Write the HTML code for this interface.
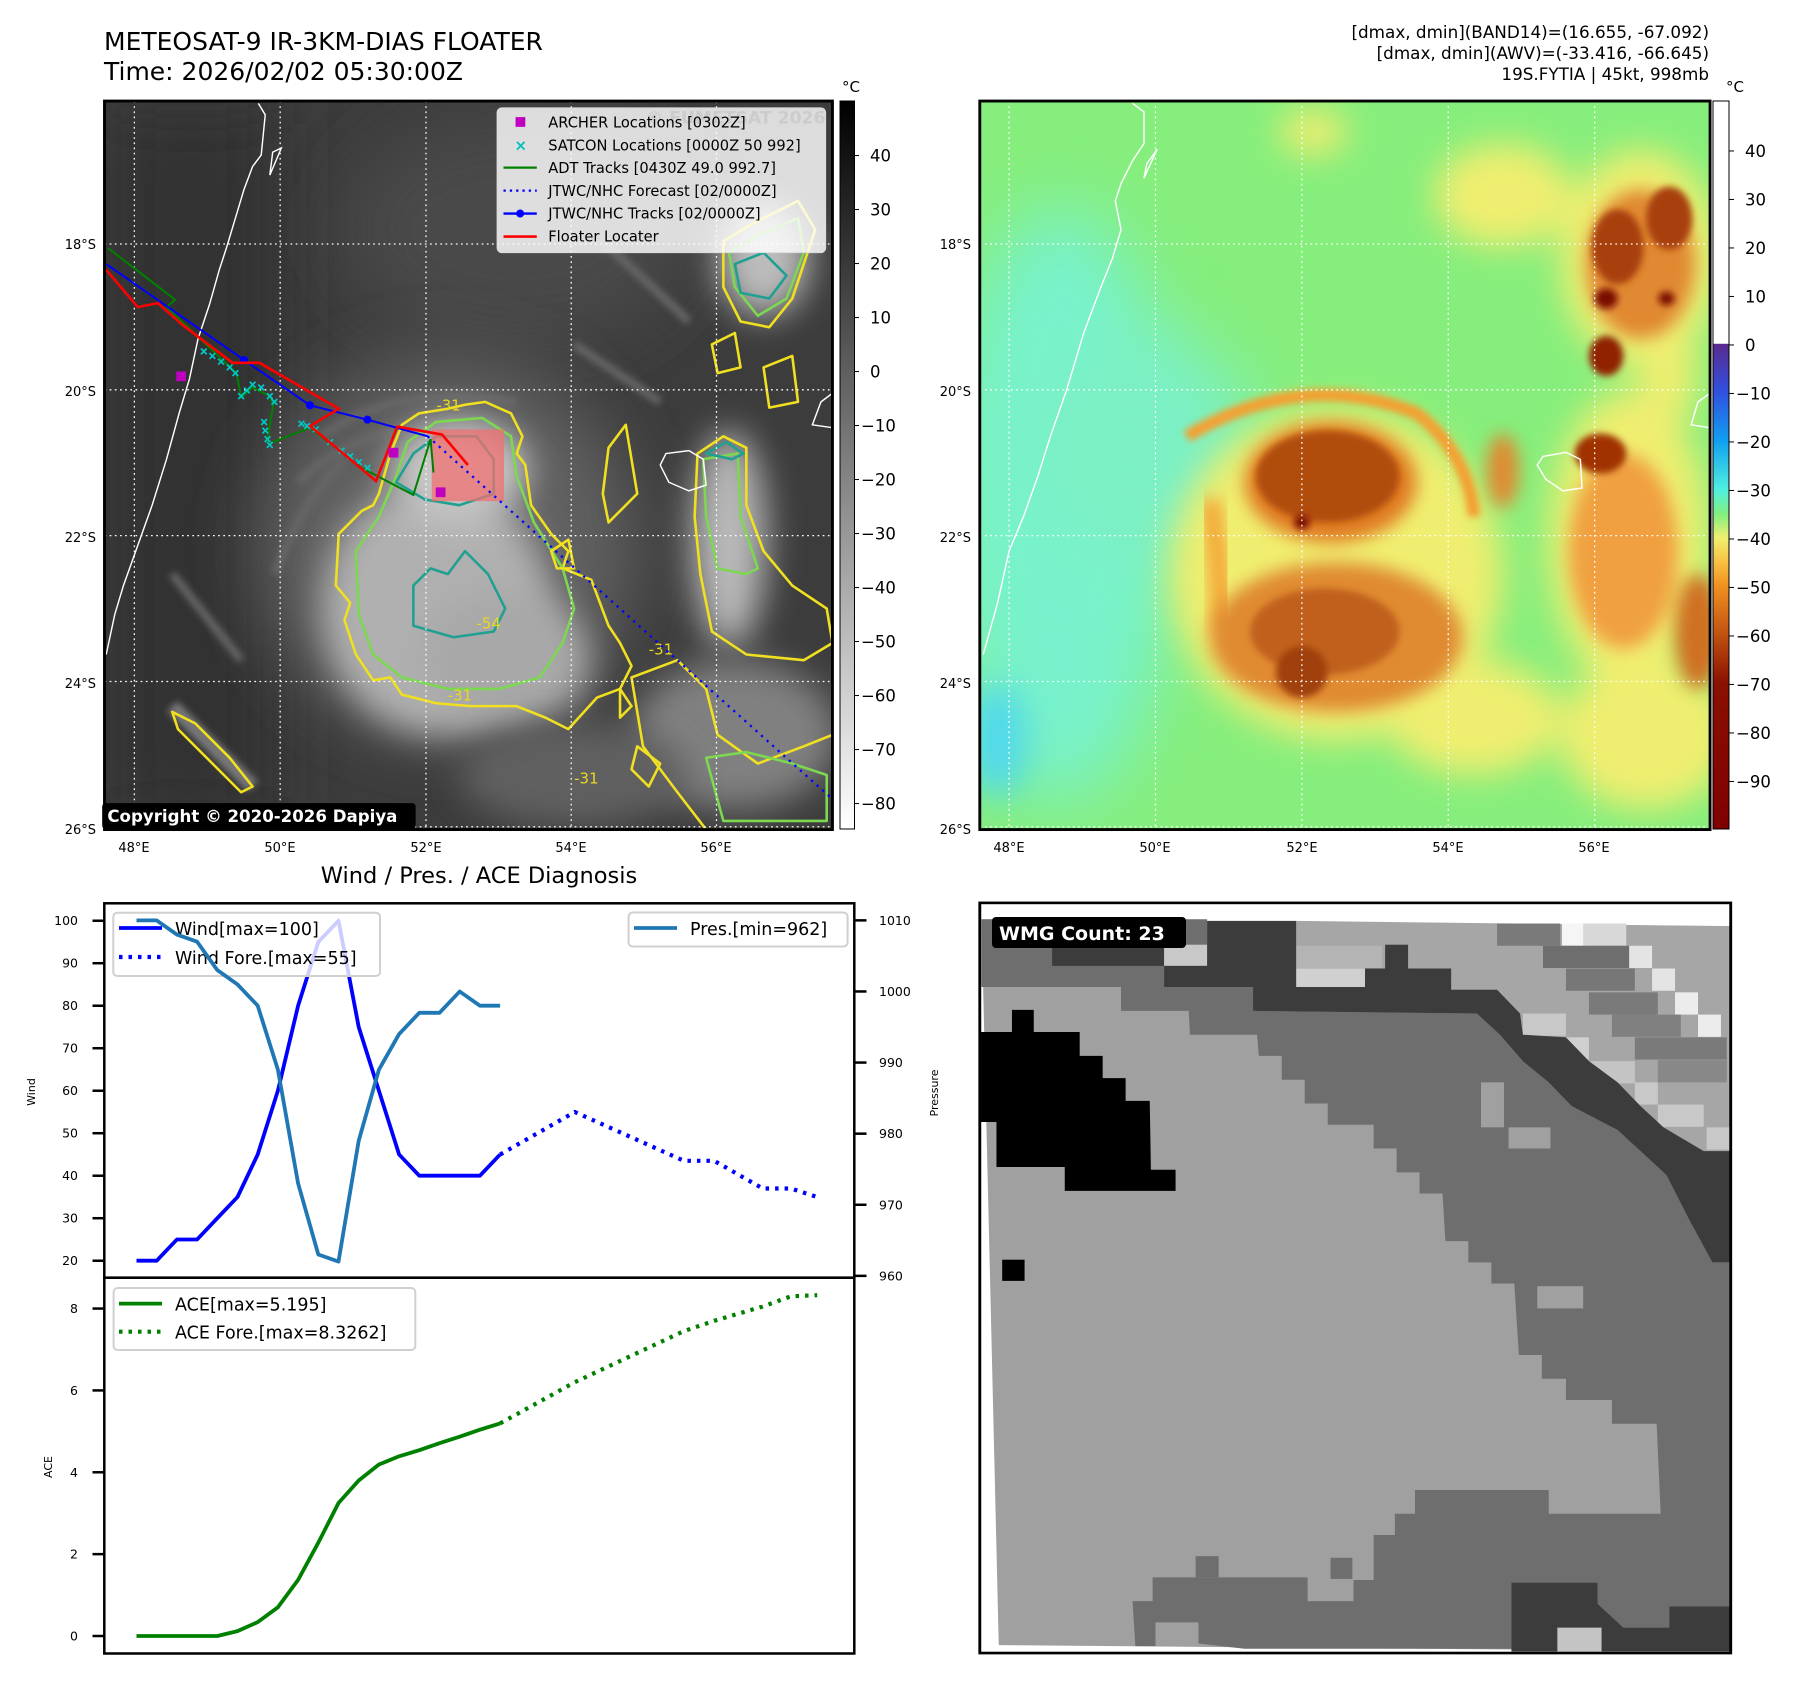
<!DOCTYPE html>
<html><head><meta charset="utf-8"><title>METEOSAT-9 IR floater</title>
<style>
html,body{margin:0;padding:0;background:#fff;}
svg{display:block;font-family:"DejaVu Sans","Liberation Sans",sans-serif;}
</style></head>
<body>
<svg id="root" width="1797" height="1690" viewBox="0 0 1797 1690" xmlns="http://www.w3.org/2000/svg">
<defs>
  <filter id="b6" x="-50%" y="-50%" width="200%" height="200%"><feGaussianBlur stdDeviation="6"/></filter>
  <filter id="b15" x="-50%" y="-50%" width="200%" height="200%"><feGaussianBlur stdDeviation="15"/></filter>
  <filter id="b30" x="-50%" y="-50%" width="200%" height="200%"><feGaussianBlur stdDeviation="30"/></filter>
  <filter id="b60" x="-50%" y="-50%" width="200%" height="200%"><feGaussianBlur stdDeviation="60"/></filter>
  <clipPath id="clipL"><rect x="182" y="176" width="1268" height="1269"/></clipPath>
  <clipPath id="clipR"><rect x="139" y="176" width="1272" height="1269"/></clipPath>
  <linearGradient id="cb1" x1="0" y1="0" x2="0" y2="1"><stop offset="0" stop-color="#000"/><stop offset="1" stop-color="#fff"/></linearGradient>
  <linearGradient id="cb2" x1="0" y1="0" x2="0" y2="1">
    <stop offset="0" stop-color="#fff"/><stop offset="0.333" stop-color="#fff"/>
    <stop offset="0.334" stop-color="#5a2a90"/><stop offset="0.40" stop-color="#3050e0"/>
    <stop offset="0.467" stop-color="#10a0f0"/><stop offset="0.534" stop-color="#50f0e0"/>
    <stop offset="0.567" stop-color="#80f080"/><stop offset="0.60" stop-color="#f0f070"/>
    <stop offset="0.634" stop-color="#f8c040"/><stop offset="0.667" stop-color="#f09020"/>
    <stop offset="0.734" stop-color="#c05010"/><stop offset="0.80" stop-color="#8a1000"/>
    <stop offset="1" stop-color="#800000"/>
  </linearGradient>
</defs>

<!-- Titles -->
<text x="104" y="50" font-size="25" fill="#000">METEOSAT-9 IR-3KM-DIAS FLOATER</text>
<text x="104" y="80" font-size="25" fill="#000">Time: 2026/02/02 05:30:00Z</text>
<g font-size="16.8" text-anchor="end" fill="#000">
<text x="1709" y="38">[dmax, dmin](BAND14)=(16.655, -67.092)</text>
<text x="1709" y="59">[dmax, dmin](AWV)=(-33.416, -66.645)</text>
<text x="1709" y="80">19S.FYTIA | 45kt, 998mb</text>
</g>

<!-- LEFT MAP -->
<g>
<g transform="scale(0.5741)">
 <g clip-path="url(#clipL)">
  <rect x="182" y="176" width="1268" height="1269" fill="#3c3c3c"/>
  <rect x="182" y="176" width="300" height="1269" fill="#333" filter="url(#b60)"/>
  <ellipse cx="900" cy="400" rx="300" ry="200" fill="#4a4a4a" filter="url(#b60)"/>
  <ellipse cx="780" cy="950" rx="330" ry="330" fill="#606060" filter="url(#b60)"/>
  <g stroke="#666" stroke-width="14" filter="url(#b6)" fill="none">
   <path d="M560,760 Q700,660 900,700"/><path d="M520,840 Q640,720 860,740"/><path d="M480,1000 Q520,880 600,800"/>
   <path d="M1000,600 L1150,700"/><path d="M1050,420 L1200,560"/><path d="M300,1000 L420,1150"/>
  </g>
  <ellipse cx="760" cy="1060" rx="200" ry="220" fill="#b0b0b0" filter="url(#b30)"/>
  <ellipse cx="800" cy="820" rx="120" ry="90" fill="#c8c8c8" filter="url(#b30)"/>
  <ellipse cx="880" cy="1150" rx="150" ry="120" fill="#a8a8a8" filter="url(#b30)"/>
  <ellipse cx="1270" cy="940" rx="65" ry="190" fill="#b8b8b8" filter="url(#b30)"/>
  <ellipse cx="1330" cy="450" rx="80" ry="100" fill="#bcbcbc" filter="url(#b30)"/>
  <ellipse cx="1280" cy="1280" rx="180" ry="130" fill="#808080" filter="url(#b30)"/>
  <ellipse cx="1000" cy="1350" rx="200" ry="90" fill="#606060" filter="url(#b30)"/>
  <path d="M300,1230 L440,1370" stroke="#777" stroke-width="25" filter="url(#b6)"/>
  <!-- contours -->
  <g fill="none" stroke-linejoin="round" stroke-width="4.5">
   <path stroke="#f0e020" d="M590,930 L630,890 L650,880 L660,860 L680,790 L700,740 L730,720 L780,712 L810,705 L845,700 L890,720 L910,760 L900,790 L915,810 L925,880 L960,930 L990,960 L980,990 L1030,1010 L1060,1090 L1080,1120 L1100,1160 L1080,1200 L1040,1215 L990,1270 L950,1250 L900,1230 L820,1230 L760,1225 L700,1210 L680,1180 L650,1185 L620,1140 L600,1080 L610,1050 L585,1020 Z"/>
   <path stroke="#7cd850" d="M620,960 L660,900 L690,830 L710,770 L760,735 L840,728 L890,760 L900,830 L930,910 L980,990 L1000,1060 L980,1120 L940,1180 L870,1200 L780,1200 L700,1180 L650,1140 L625,1070 Z"/>
   <path stroke="#20a090" d="M690,840 L720,790 L760,760 L830,760 L860,800 L860,860 L800,880 L740,870 Z M720,1020 L750,990 L780,1000 L810,960 L850,1000 L880,1060 L860,1100 L790,1110 L720,1090 Z"/>
   <path stroke="#f0e020" d="M1215,790 L1260,760 L1300,780 L1300,880 L1330,960 L1380,1020 L1440,1060 L1450,1120 L1400,1150 L1300,1140 L1240,1100 L1220,1000 L1210,900 Z"/>
   <path stroke="#7cd850" d="M1225,800 L1285,790 L1290,900 L1320,990 L1300,1000 L1250,990 L1230,900 Z"/>
   <path stroke="#20a090" d="M1230,790 L1265,770 L1295,790 L1275,800 Z"/>
   <path stroke="#f0e020" d="M1260,420 L1310,390 L1390,350 L1420,400 L1400,460 L1380,520 L1340,570 L1290,560 L1260,500 Z"/>
   <path stroke="#7cd850" d="M1270,440 L1320,410 L1390,380 L1400,440 L1370,520 L1320,550 L1280,500 Z"/>
   <path stroke="#20a090" d="M1280,460 L1330,440 L1370,480 L1340,520 L1290,510 Z"/>
   <path stroke="#f0e020" d="M1240,600 L1280,580 L1290,640 L1250,650 Z M1330,640 L1380,620 L1390,700 L1340,710 Z M1060,780 L1090,740 L1110,860 L1060,910 L1050,860 Z M300,1240 L340,1260 L400,1320 L440,1370 L420,1380 L360,1320 L310,1270 Z"/>
   <path stroke="#f0e020" d="M1100,1180 L1180,1150 L1230,1200 L1250,1280 L1320,1330 L1400,1300 L1450,1280 L1450,1445 L1230,1445 L1180,1380 L1120,1300 Z"/>
   <path stroke="#f0e020" d="M1110,1300 L1150,1330 L1130,1370 L1100,1340 Z M960,960 L990,940 L1000,990 L970,990 Z M1080,1200 L1100,1230 L1080,1250 Z"/>
   <path stroke="#7cd850" d="M1230,1320 L1300,1310 L1380,1330 L1440,1350 L1440,1430 L1260,1430 Z"/>
  </g>
  <g font-size="26" fill="#e8d820">
   <text x="760" y="715">-31</text><text x="830" y="1095">-54</text><text x="780" y="1220">-31</text><text x="1130" y="1140">-31</text><text x="1000" y="1365">-31</text>
  </g>
  <!-- coastlines -->
  <g fill="none" stroke="#fff" stroke-width="2.5">
   <path d="M450,180 L462,200 L455,270 L440,290 L425,330 L410,380 L395,430 L382,470 L365,530 L345,590 L330,660 L312,720 L290,800 L265,880 L240,950 L215,1020 L200,1070 L185,1140"/>
   <path d="M475,265 L490,258 L470,305 Z"/>
   <path d="M1160,790 L1200,785 L1225,800 L1230,845 L1200,855 L1165,840 L1150,810 Z"/>
   <path d="M1450,685 L1430,700 L1415,740 L1450,745"/>
  </g>
  <!-- grid -->
  <g stroke="#fff" stroke-width="2.2" stroke-dasharray="3,6">
   <line x1="234" y1="176" x2="234" y2="1445"/><line x1="488" y1="176" x2="488" y2="1445"/><line x1="742" y1="176" x2="742" y2="1445"/><line x1="995" y1="176" x2="995" y2="1445"/><line x1="1248" y1="176" x2="1248" y2="1445"/>
   <line x1="182" y1="425" x2="1450" y2="425"/><line x1="182" y1="679" x2="1450" y2="679"/><line x1="182" y1="933" x2="1450" y2="933"/><line x1="182" y1="1187" x2="1450" y2="1187"/><line x1="182" y1="1440" x2="1450" y2="1440"/>
  </g>
  <!-- floater box -->
  <rect x="752" y="748" width="126" height="125" fill="#f07070" fill-opacity="0.75"/>
  <!-- tracks -->
  <polyline points="745,760 1450,1392" fill="none" stroke="#0000ff" stroke-width="4" stroke-dasharray="4,9"/>
  <polyline points="188,432 305,522 290,535 412,650 420,692 440,675 470,690 476,705 466,765 470,772 540,745 630,815 720,862 750,765 755,823" fill="none" stroke="#008000" stroke-width="3.5"/>
  <g id="satcon" stroke="#00c8c8" stroke-width="3"></g>
  <polyline points="185,460 425,627 540,706 640,731 745,760" fill="none" stroke="#0000ff" stroke-width="3.5"/>
  <g fill="#0000ff"><circle cx="425" cy="627" r="7"/><circle cx="540" cy="706" r="7"/><circle cx="640" cy="731" r="7"/></g>
  <polyline points="185,470 240,535 275,528 318,566 405,632 452,632 590,712 540,742 610,800 655,838 692,743 770,757 815,810" fill="none" stroke="#ff0000" stroke-width="4.5"/>
  <g fill="#c000c0"><rect x="307" y="647" width="17" height="17"/><rect x="677" y="780" width="17" height="17"/><rect x="759" y="849" width="17" height="17"/></g>
 </g>
 <rect x="182" y="176" width="1268" height="1269" fill="none" stroke="#000" stroke-width="5"/>
 <!-- legend -->
 <g>
  <rect x="866" y="188" width="572" height="252" rx="8" fill="#fff" fill-opacity="0.82" stroke="#ddd" stroke-width="2"/>
  <text x="1125" y="215" font-size="30" font-weight="bold" fill="#ccc">© EUMETSAT 2026</text>
  <rect x="898" y="204" width="17" height="17" fill="#c000c0"/>
  <text x="907" y="262" font-size="26" text-anchor="middle" fill="#00c0c0" font-weight="bold">×</text>
  <line x1="877" y1="292" x2="935" y2="292" stroke="#008000" stroke-width="4"/>
  <line x1="877" y1="332" x2="935" y2="332" stroke="#0000ff" stroke-width="4" stroke-dasharray="4,7"/>
  <line x1="877" y1="372" x2="935" y2="372" stroke="#0000ff" stroke-width="4"/><circle cx="906" cy="372" r="7" fill="#0000ff"/>
  <line x1="877" y1="412" x2="935" y2="412" stroke="#ff0000" stroke-width="4.5"/>
  <g font-size="25.5" fill="#000">
   <text x="955" y="222">ARCHER Locations [0302Z]</text>
   <text x="955" y="262">SATCON Locations [0000Z 50 992]</text>
   <text x="955" y="301">ADT Tracks [0430Z 49.0 992.7]</text>
   <text x="955" y="341">JTWC/NHC Forecast [02/0000Z]</text>
   <text x="955" y="381">JTWC/NHC Tracks [02/0000Z]</text>
   <text x="955" y="421">Floater Locater</text>
  </g>
 </g>
 <g>
  <rect x="178" y="1399" width="546" height="45" rx="6" fill="#000"/>
  <text x="187" y="1432" font-size="29" font-weight="bold" fill="#fff">Copyright © 2020-2026 Dapiya</text>
 </g>
</g>
<g font-size="13" fill="#000">
 <text x="96" y="249" text-anchor="end">18°S</text><text x="96" y="396" text-anchor="end">20°S</text><text x="96" y="542" text-anchor="end">22°S</text><text x="96" y="688" text-anchor="end">24°S</text><text x="96" y="834" text-anchor="end">26°S</text>
 <text x="134" y="852" text-anchor="middle">48°E</text><text x="280" y="852" text-anchor="middle">50°E</text><text x="426" y="852" text-anchor="middle">52°E</text><text x="571" y="852" text-anchor="middle">54°E</text><text x="716" y="852" text-anchor="middle">56°E</text>
</g>
<g>
 <rect x="840" y="101" width="14.5" height="728" fill="url(#cb1)" stroke="#000" stroke-width="1"/>
 <text x="851" y="92" font-size="15" text-anchor="middle">°C</text>
 <g id="cb1ticks" font-size="16.5"></g>
</g>

<!-- RIGHT MAP -->
<g>
<g transform="translate(900,0) scale(0.5741)">
 <g clip-path="url(#clipR)">
  <rect x="139" y="176" width="1272" height="1269" fill="#86ee7c"/>
  <ellipse cx="280" cy="880" rx="200" ry="520" fill="#78f2cc" filter="url(#b60)"/>
  <ellipse cx="420" cy="780" rx="200" ry="200" fill="#7cf0c4" filter="url(#b60)"/>
  <ellipse cx="170" cy="1290" rx="50" ry="100" fill="#50d8f0" filter="url(#b30)"/>
  <!-- yellow halos -->
  <g fill="#f0ee70" filter="url(#b30)">
   <ellipse cx="760" cy="1000" rx="290" ry="290"/>
   <ellipse cx="1270" cy="940" rx="140" ry="260"/>
   <ellipse cx="1290" cy="450" rx="140" ry="190"/>
   <ellipse cx="1050" cy="340" rx="120" ry="90"/>
   <ellipse cx="1300" cy="1280" rx="150" ry="130"/>
   <ellipse cx="1000" cy="1250" rx="150" ry="100"/>
   <ellipse cx="1340" cy="650" rx="50" ry="90"/>
   <ellipse cx="720" cy="230" rx="60" ry="40"/>
  </g>
  <path d="M500,760 Q700,640 900,720 Q990,790 1000,900" fill="none" stroke="#f4a030" stroke-width="22" filter="url(#b6)"/>
  <path d="M540,870 Q560,1000 560,1100" fill="none" stroke="#f4a030" stroke-width="34" filter="url(#b15)"/>
  <g filter="url(#b15)">
   <ellipse cx="750" cy="840" rx="150" ry="105" fill="#e07a20"/>
   <ellipse cx="760" cy="1110" rx="220" ry="130" fill="#e08a30"/>
   <ellipse cx="1260" cy="960" rx="95" ry="170" fill="#f0a040"/>
   <ellipse cx="1290" cy="460" rx="95" ry="130" fill="#e08830"/>
   <ellipse cx="1050" cy="820" rx="28" ry="65" fill="#e08a30"/>
   <ellipse cx="1390" cy="1100" rx="40" ry="100" fill="#d07020"/>
  </g>
  <g filter="url(#b6)">
   <ellipse cx="745" cy="830" rx="125" ry="80" fill="#b04e08"/>
   <ellipse cx="740" cy="1100" rx="130" ry="75" fill="#c0601a"/>
   <ellipse cx="700" cy="1170" rx="45" ry="45" fill="#a04008"/>
   <ellipse cx="1220" cy="790" rx="45" ry="35" fill="#a03000"/>
   <ellipse cx="1250" cy="430" rx="45" ry="65" fill="#a84010"/>
   <ellipse cx="1340" cy="380" rx="40" ry="55" fill="#a84010"/>
   <ellipse cx="1230" cy="620" rx="30" ry="35" fill="#902000"/>
  </g>
  <g fill="#7a0a00" filter="url(#b6)">
   <ellipse cx="1230" cy="520" rx="20" ry="18"/><ellipse cx="1335" cy="520" rx="14" ry="12"/><ellipse cx="700" cy="910" rx="14" ry="12"/>
  </g>
  <g fill="none" stroke="#fff" stroke-width="2.5">
   <path d="M405,180 L425,195 L425,250 L405,280 L385,320 L375,350 L385,400 L370,450 L350,500 L320,580 L290,680 L262,760 L240,830 L215,900 L190,960 L170,1050 L145,1140"/>
   <path d="M430,285 L448,260 L425,310 Z"/>
   <path d="M1120,795 L1160,788 L1185,800 L1188,850 L1155,855 L1125,835 L1110,810 Z"/>
   <path d="M1411,685 L1390,700 L1378,740 L1411,745"/>
  </g>
  <g stroke="#fff" stroke-width="2.2" stroke-dasharray="3,6">
   <line x1="190" y1="176" x2="190" y2="1445"/><line x1="445" y1="176" x2="445" y2="1445"/><line x1="700" y1="176" x2="700" y2="1445"/><line x1="955" y1="176" x2="955" y2="1445"/><line x1="1210" y1="176" x2="1210" y2="1445"/>
   <line x1="139" y1="425" x2="1411" y2="425"/><line x1="139" y1="679" x2="1411" y2="679"/><line x1="139" y1="933" x2="1411" y2="933"/><line x1="139" y1="1187" x2="1411" y2="1187"/><line x1="139" y1="1440" x2="1411" y2="1440"/>
  </g>
 </g>
 <rect x="139" y="176" width="1272" height="1269" fill="none" stroke="#000" stroke-width="5"/>
</g>
</g>
<g font-size="13" fill="#000">
 <text x="971" y="249" text-anchor="end">18°S</text><text x="971" y="396" text-anchor="end">20°S</text><text x="971" y="542" text-anchor="end">22°S</text><text x="971" y="688" text-anchor="end">24°S</text><text x="971" y="834" text-anchor="end">26°S</text>
 <text x="1009" y="852" text-anchor="middle">48°E</text><text x="1155" y="852" text-anchor="middle">50°E</text><text x="1302" y="852" text-anchor="middle">52°E</text><text x="1448" y="852" text-anchor="middle">54°E</text><text x="1594" y="852" text-anchor="middle">56°E</text>
</g>
<g>
 <rect x="1713" y="101" width="16" height="728" fill="url(#cb2)" stroke="#000" stroke-width="1"/>
 <text x="1735" y="92" font-size="15" text-anchor="middle">°C</text>
 <g id="cb2ticks" font-size="16.5"></g>
</g>

<!-- BOTTOM LEFT CHART -->
<text x="479" y="883" font-size="22.5" text-anchor="middle">Wind / Pres. / ACE Diagnosis</text>
<g id="chart"></g>

<!-- BOTTOM RIGHT WMG -->
<g>
<g transform="translate(900,860) scale(0.5741,0.5294)">
 <rect x="139" y="81" width="1308" height="1417" fill="#fff"/>
 <polygon points="142,112 1447,125 1447,1495 172,1483" fill="#a0a0a0"/>
 <polygon points="690,115 1447,125 1447,550 1400,550 1330,505 1290,465 1250,420 1200,380 1160,335 1085,330 1080,290 1040,245 960,245 960,205 810,205 810,240 690,240" fill="#a6a6a6"/>
 <g>
  <rect x="1153" y="120" width="40" height="42" fill="#f5f5f5"/><rect x="1190" y="120" width="75" height="42" fill="#d8d8d8"/>
  <rect x="1270" y="162" width="40" height="42" fill="#e4e4e4"/><rect x="1310" y="205" width="40" height="42" fill="#e4e4e4"/>
  <rect x="1350" y="250" width="40" height="42" fill="#ececec"/><rect x="1390" y="292" width="40" height="42" fill="#ececec"/>
  <rect x="1040" y="120" width="110" height="42" fill="#7a7a7a"/><rect x="1120" y="162" width="150" height="42" fill="#6e6e6e"/>
  <rect x="1160" y="205" width="120" height="42" fill="#777"/><rect x="1200" y="250" width="120" height="42" fill="#7a7a7a"/>
  <rect x="1240" y="292" width="120" height="42" fill="#808080"/><rect x="1280" y="335" width="160" height="42" fill="#7a7a7a"/>
  <rect x="1320" y="378" width="120" height="42" fill="#888"/><rect x="690" y="162" width="150" height="42" fill="#b4b4b4"/>
  <rect x="690" y="205" width="120" height="40" fill="#d0d0d0"/><rect x="1085" y="290" width="75" height="42" fill="#c8c8c8"/>
  <rect x="1160" y="335" width="40" height="42" fill="#d0d0d0"/><rect x="1200" y="380" width="80" height="42" fill="#c4c4c4"/>
  <rect x="1280" y="420" width="40" height="42" fill="#c8c8c8"/><rect x="1320" y="462" width="80" height="42" fill="#c8c8c8"/>
  <rect x="1405" y="505" width="42" height="42" fill="#c8c8c8"/>
 </g>
 <polygon points="142,112 535,112 535,200 460,200 460,240 142,240" fill="#6e6e6e"/>
 <rect x="265" y="160" width="195" height="40" fill="#3c3c3c"/>
 <rect x="460" y="160" width="75" height="40" fill="#c8c8c8"/><rect x="615" y="160" width="37" height="40" fill="#c8c8c8"/>
 <polygon points="385,240 615,240 615,285 1005,290 1045,330 1085,380 1130,420 1170,465 1250,510 1290,550 1335,595 1375,680 1415,760 1447,760 1447,1410 1340,1410 1340,1450 1260,1450 1215,1405 1215,1365 1065,1365 1065,1490 600,1490 520,1480 520,1440 445,1440 445,1485 410,1485 405,1400 440,1400 440,1355 710,1355 710,1400 790,1400 790,1360 825,1360 825,1275 862,1275 862,1235 897,1235 897,1190 1130,1190 1130,1235 1325,1235 1318,1065 1240,1065 1240,1020 1160,1020 1160,980 1118,980 1118,935 1078,935 1070,800 1030,800 1030,760 990,760 990,720 950,720 945,630 905,630 905,590 865,590 865,545 825,545 825,500 745,500 745,460 705,460 705,415 665,415 665,370 625,370 622,330 505,330 503,285 385,285" fill="#6e6e6e"/>
 <rect x="1110" y="805" width="80" height="42" fill="#a0a0a0"/><rect x="1012" y="420" width="40" height="85" fill="#a0a0a0"/><rect x="1060" y="505" width="73" height="40" fill="#a0a0a0"/>
 <rect x="515" y="1315" width="40" height="40" fill="#6e6e6e"/><rect x="750" y="1318" width="38" height="40" fill="#6e6e6e"/>
 <polygon points="535,115 690,115 690,240 810,240 810,205 960,205 960,245 1040,245 1080,290 1085,330 1160,335 1200,380 1250,420 1290,465 1330,505 1400,550 1447,550 1447,760 1415,760 1375,680 1335,595 1290,550 1250,510 1170,465 1130,420 1085,380 1045,330 1005,290 615,285 615,240 460,240 460,200 535,200" fill="#3c3c3c"/>
 <rect x="845" y="160" width="40" height="45" fill="#3c3c3c"/>
 <polygon points="1065,1365 1215,1365 1215,1405 1260,1450 1340,1450 1340,1410 1447,1410 1447,1495 1065,1495" fill="#3c3c3c"/>
 <rect x="1145" y="1450" width="77" height="45" fill="#c4c4c4"/>
 <polygon points="139,325 195,325 195,283 233,283 233,325 313,325 313,370 353,370 353,412 393,412 393,455 435,455 437,585 480,585 480,625 287,625 287,580 168,580 168,495 139,495" fill="#000"/>
 <rect x="178" y="755" width="39" height="40" fill="#000"/>
 <rect x="139" y="81" width="1308" height="1417" fill="none" stroke="#000" stroke-width="5"/>
</g>
<g>
 <rect x="992" y="917" width="194" height="31" rx="4" fill="#000"/>
 <text x="999" y="940" font-size="19" font-weight="bold" fill="#fff">WMG Count: 23</text>
</g>
</g>

<script>
// ---- Chart data ----
var obsIdx = [0,1,2,3,4,5,6,7,8,9,10,11,12,13,14,15,16,17,18];
var windObs = [20,20,25,25,30,35,45,60,80,95,100,75,60,45,40,40,40,40,45];
var presObs = [1010,1010,1008,1007,1003,1001,998,989,973,963,962,979,989,994,997,997,1000,998,998];
var aceObs = [0,0,0,0,0,0.12,0.34,0.7,1.37,2.28,3.25,3.8,4.19,4.39,4.54,4.71,4.87,5.04,5.195];
var fcstIdx = [18,21.7,27.1,28.6,31,32.4,33.7];
var windFcst = [45,55,43.5,43.5,37,37,35];
var aceFcst = [5.195,6.2,7.45,7.7,8.05,8.3,8.3262];
var windTicks = [20,30,40,50,60,70,80,90,100];
var presTicks = [960,970,980,990,1000,1010];
var aceTicks = [0,2,4,6,8];
var cb1Ticks = [40,30,20,10,0,-10,-20,-30,-40,-50,-60,-70,-80];
var cb2Ticks = [40,30,20,10,0,-10,-20,-30,-40,-50,-60,-70,-80,-90];

var NS = 'http://www.w3.org/2000/svg';
function mk(tag, parent){ var e = document.createElementNS(NS, tag); parent.appendChild(e); return e; }
function fmt(v){ return v < 0 ? '\u2212' + Math.abs(v) : String(v); }

// axis functions
function xIdx(i){ return 136.5 + i * 20.2; }
function yWind(v){ return 903.3 + (104.1 - v) * 4.25; }
function yPres(v){ return 903.3 + (1012.4 - v) * 7.11; }
function yAce(v){ return 1636 - v * 40.93; }
function yCb1(v){ return 101 + (50.1 - v) * 5.4; }
function yCb2(v){ return 101 + (50.3 - v) * 4.85; }

// colorbar ticks
var g1 = document.getElementById('cb1ticks');
cb1Ticks.forEach(function(v){
  var y = yCb1(v);
  var l = mk('line', g1);
  l.setAttribute('x1', 854.5); l.setAttribute('x2', 859); l.setAttribute('y1', y); l.setAttribute('y2', y); l.setAttribute('stroke', '#000');
  var t = mk('text', g1);
  
  
  t.setAttribute('x', v < 0 ? 861 : 870); t.setAttribute('y', y + 6); t.textContent = fmt(v);
});
var g2 = document.getElementById('cb2ticks');
cb2Ticks.forEach(function(v){
  var y = yCb2(v);
  var l = mk('line', g2);
  l.setAttribute('x1', 1729); l.setAttribute('x2', 1734); l.setAttribute('y1', y); l.setAttribute('y2', y); l.setAttribute('stroke', '#000');
  var t = mk('text', g2);
  
  
  t.setAttribute('x', v < 0 ? 1736 : 1745); t.setAttribute('y', y + 6); t.textContent = fmt(v);
});

// satcon markers (map symbols)
var satPts = [[355,612],[370,620],[385,630],[400,640],[410,650],[420,690],[430,680],[440,670],[455,675],[470,690],[478,700],[460,735],[462,750],[466,765],[470,775],[525,738],[535,742],[550,748],[575,770],[595,785],[610,795],[625,805],[640,815]];
var sg = document.getElementById('satcon');
satPts.forEach(function(p){
  var pa = mk('path', sg);
  pa.setAttribute('d', 'M'+(p[0]-5)+','+(p[1]-5)+'L'+(p[0]+5)+','+(p[1]+5)+'M'+(p[0]+5)+','+(p[1]-5)+'L'+(p[0]-5)+','+(p[1]+5));
});

// ---- chart ----
var ch = document.getElementById('chart');
function poly(parent, xs, ys, color, w, dash, name){
  var p = mk('polyline', parent);
  
  
  p.setAttribute('points', xs.map(function(x,i){ return x.toFixed(1)+','+ys[i].toFixed(1); }).join(' '));
  p.setAttribute('fill', 'none'); p.setAttribute('stroke', color); p.setAttribute('stroke-width', w);
  p.setAttribute('stroke-linejoin', 'round');
  if (dash) p.setAttribute('stroke-dasharray', dash);
  return p;
}
function txt(parent, x, y, s, size, anchor, name){
  var t = mk('text', parent);
  
  
  t.setAttribute('x', x); t.setAttribute('y', y); t.setAttribute('font-size', size);
  if (anchor) t.setAttribute('text-anchor', anchor);
  t.textContent = s; return t;
}
var fr = mk('rect', ch); fr.setAttribute('x',104.3); fr.setAttribute('y',903.3); fr.setAttribute('width',750); fr.setAttribute('height',750);
fr.setAttribute('fill','#fff'); fr.setAttribute('stroke','none');
// wind series
poly(ch, obsIdx.map(xIdx), windObs.map(yWind), '#0000ff', 3.8, null, 'wind-line');
poly(ch, fcstIdx.map(xIdx), windFcst.map(yWind), '#0000ff', 4.2, '3.5,6', 'wind-forecast-line');
// wind legend
var wl = mk('g', ch);


var r = mk('rect', wl); r.setAttribute('x',113.3); r.setAttribute('y',912.7); r.setAttribute('width',266.7); r.setAttribute('height',63.3); r.setAttribute('rx',4);
r.setAttribute('fill','#fff'); r.setAttribute('fill-opacity','0.8'); r.setAttribute('stroke','#d0d0d0'); r.setAttribute('stroke-width',2);
var l1 = mk('line', wl); l1.setAttribute('x1',119); l1.setAttribute('x2',162); l1.setAttribute('y1',928); l1.setAttribute('y2',928); l1.setAttribute('stroke','#0000ff'); l1.setAttribute('stroke-width',3.8);
var l2 = mk('line', wl); l2.setAttribute('x1',119); l2.setAttribute('x2',162); l2.setAttribute('y1',957); l2.setAttribute('y2',957); l2.setAttribute('stroke','#0000ff'); l2.setAttribute('stroke-width',4.2); l2.setAttribute('stroke-dasharray','3.5,6');
txt(wl, 175, 935, 'Wind[max=100]', 17.5, null, 'wind-legend-label');
txt(wl, 175, 964, 'Wind Fore.[max=55]', 17.5, null, 'wind-forecast-legend-label');
// pressure
poly(ch, obsIdx.map(xIdx), presObs.map(yPres), '#1f77b4', 3.8, null, 'pressure-line');
var pl = mk('g', ch);


var r2 = mk('rect', pl); r2.setAttribute('x',628.6); r2.setAttribute('y',912.5); r2.setAttribute('width',219); r2.setAttribute('height',34); r2.setAttribute('rx',4);
r2.setAttribute('fill','#fff'); r2.setAttribute('fill-opacity','0.8'); r2.setAttribute('stroke','#d0d0d0'); r2.setAttribute('stroke-width',2);
var l3 = mk('line', pl); l3.setAttribute('x1',634); l3.setAttribute('x2',677); l3.setAttribute('y1',928); l3.setAttribute('y2',928); l3.setAttribute('stroke','#1f77b4'); l3.setAttribute('stroke-width',3.8);
txt(pl, 690, 935, 'Pres.[min=962]', 17.5, null, 'pressure-legend-label');
// ACE
poly(ch, obsIdx.map(xIdx), aceObs.map(yAce), '#008000', 3.8, null, 'ace-line');
poly(ch, fcstIdx.map(xIdx), aceFcst.map(yAce), '#008000', 4.2, '3.5,6', 'ace-forecast-line');
var al = mk('g', ch);


var r3 = mk('rect', al); r3.setAttribute('x',113.6); r3.setAttribute('y',1288); r3.setAttribute('width',301.7); r3.setAttribute('height',62); r3.setAttribute('rx',4);
r3.setAttribute('fill','#fff'); r3.setAttribute('fill-opacity','0.8'); r3.setAttribute('stroke','#d0d0d0'); r3.setAttribute('stroke-width',2);
var l4 = mk('line', al); l4.setAttribute('x1',119); l4.setAttribute('x2',162); l4.setAttribute('y1',1303.6); l4.setAttribute('y2',1303.6); l4.setAttribute('stroke','#008000'); l4.setAttribute('stroke-width',3.8);
var l5 = mk('line', al); l5.setAttribute('x1',119); l5.setAttribute('x2',162); l5.setAttribute('y1',1331.7); l5.setAttribute('y2',1331.7); l5.setAttribute('stroke','#008000'); l5.setAttribute('stroke-width',4.2); l5.setAttribute('stroke-dasharray','3.5,6');
txt(al, 175, 1310.5, 'ACE[max=5.195]', 17.5, null, 'ace-legend-label');
txt(al, 175, 1338.5, 'ACE Fore.[max=8.3262]', 17.5, null, 'ace-forecast-legend-label');
[[903.3,374.4],[1277.7,375.8]].forEach(function(f){
  var b = mk('rect', ch); b.setAttribute('x',104.3); b.setAttribute('y',f[0]); b.setAttribute('width',750); b.setAttribute('height',f[1]);
  b.setAttribute('fill','none'); b.setAttribute('stroke','#000'); b.setAttribute('stroke-width',2.5);
});
function tick(x1,x2,y){ var t = mk('line', ch); t.setAttribute('x1',x1); t.setAttribute('x2',x2); t.setAttribute('y1',y); t.setAttribute('y2',y); t.setAttribute('stroke','#000'); t.setAttribute('stroke-width',2.5); }
windTicks.forEach(function(v){ var y=yWind(v); tick(92.5,104.3,y); txt(ch, 78, y+4.5, String(v), 12.5, 'end', 'wind-tick-label'); });
presTicks.forEach(function(v){ var y=yPres(v); tick(854.3,866.5,y); txt(ch, 879, y+4.5, String(v), 12.5, null, 'pressure-tick-label'); });
aceTicks.forEach(function(v){ var y=yAce(v); tick(92.5,104.3,y); txt(ch, 78, y+4.5, String(v), 12.5, 'end', 'ace-tick-label'); });
var yl1 = txt(ch, 0, 0, 'Wind', 11, 'middle', 'wind-axis-title'); yl1.setAttribute('transform','translate(35,1092) rotate(-90)');
var yl2 = txt(ch, 0, 0, 'Pressure', 11, 'middle', 'pressure-axis-title'); yl2.setAttribute('transform','translate(938,1093) rotate(-90)');
var yl3 = txt(ch, 0, 0, 'ACE', 11, 'middle', 'ace-axis-title'); yl3.setAttribute('transform','translate(52,1467) rotate(-90)');
</script>
</svg>
</body></html>
